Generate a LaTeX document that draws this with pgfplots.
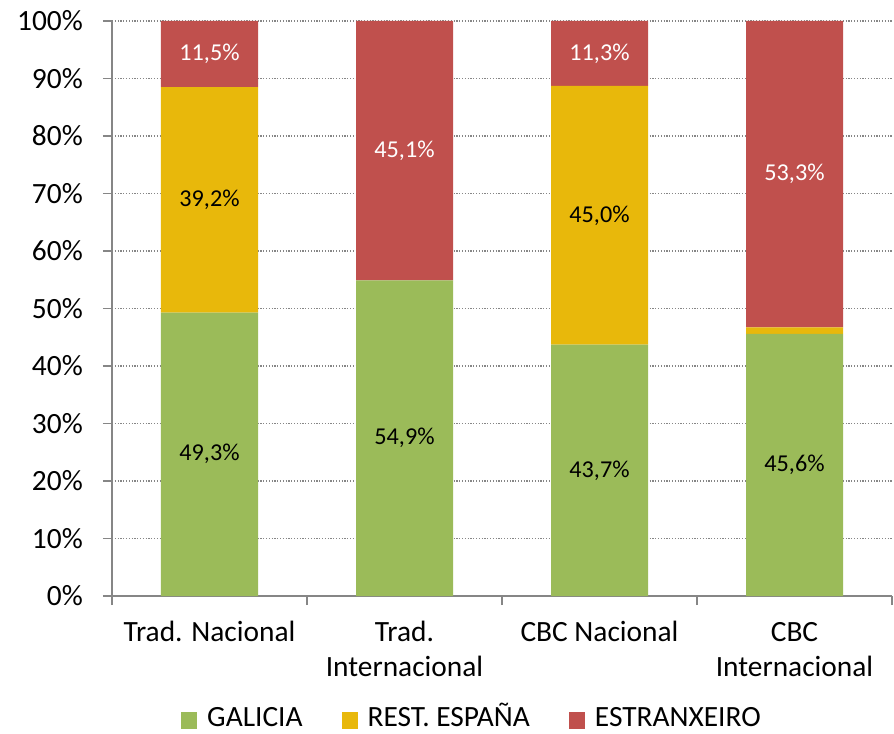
\documentclass[border=0pt]{standalone}
\usepackage{pgfplots}
\pgfplotsset{compat=1.18}
\usepackage{fontspec}
\setmainfont{Carlito}
\definecolor{cgreen}{HTML}{9BBB59}
\definecolor{cyellow}{HTML}{E8B80B}
\definecolor{cred}{HTML}{C0504D}
\definecolor{caxis}{HTML}{868686}
\newcommand{\lbl}{\fontsize{29.5}{35}\selectfont}
\newcommand{\dlbl}{\fontsize{24.3}{28}\selectfont}
\newcommand{\legtxt}[1]{\rule[-2bp]{0pt}{18bp}\smash{#1}}
\begin{document}
\begin{tikzpicture}
\path[use as bounding box] (-112bp,-138bp) rectangle (782bp,596bp);
\pgfplotsset{common/.style={
  anchor=south west, at={(0,0)},
  scale only axis, width=780bp, height=575bp,
  xmin=-0.5, xmax=3.5, ymin=0, ymax=100,
}}
\begin{axis}[common,
  ybar stacked, bar width=97bp,
  /pgf/number format/assume math mode=true,
  axis x line*=bottom, axis y line*=left,
  axis line style={caxis, line width=1.3bp, -},
  tick align=outside, major tick length=9bp,
  tick style={caxis, line width=1.3bp},
  ytick={0,10,...,100},
  yticklabel={\pgfmathprintnumber{\tick}\%},
  yticklabel style={font=\lbl, inner sep=0pt, xshift=-20bp},
  ymajorgrids, grid style={caxis, line width=1.2bp, dash pattern=on 1.2bp off 1.6bp},
  xtick={-0.5,0.5,1.5,2.5,3.5}, xticklabels={},
  extra x ticks={0,1,2,3},
  extra x tick labels={{\strut Trad. Nacional},{\strut Trad.\\\strut Internacional},{\strut CBC Nacional},{\strut CBC\\\strut Internacional}},
  extra x tick style={major tick length=0pt, grid=none,
    xticklabel style={font=\lbl, align=center, anchor=north, inner sep=0pt, yshift=-21bp}},
  legend columns=3,
  legend style={draw=none, fill=none, font=\lbl, at={(0.4615,-0.2151)}, anchor=center,
    inner sep=0pt,
    /tikz/every even column/.append style={column sep=37bp}},
]
\addplot[fill=cgreen, draw=none, legend image code/.code={\path (0bp,-20bp) (24bp,20bp); \fill[cgreen] (0bp,-9bp) rectangle (16bp,8bp);}]
  coordinates {(0,49.3) (1,54.9) (2,43.7) (3,45.6)};
\addplot[fill=cyellow, draw=none, legend image code/.code={\path (0bp,-20bp) (24bp,20bp); \fill[cyellow] (0bp,-9bp) rectangle (16bp,8bp);}]
  coordinates {(0,39.2) (1,0) (2,45.0) (3,1.1)};
\addplot[fill=cred, draw=none, legend image code/.code={\path (0bp,-20bp) (24bp,20bp); \fill[cred] (0bp,-9bp) rectangle (16bp,8bp);}]
  coordinates {(0,11.5) (1,45.1) (2,11.3) (3,53.3)};
\legend{{\legtxt{GALICIA}}, {\legtxt{REST. ESPAÑA}}, {\legtxt{ESTRANXEIRO}}}
\end{axis}
\begin{axis}[common, hide axis]
\addplot[draw=none, mark=none, nodes near coords, point meta=explicit symbolic,
  every node near coord/.style={anchor=center, font=\dlbl, text=black}]
  coordinates {(0,24.65) [49,3\%] (0,68.9) [39,2\%] (1,27.45) [54,9\%] (2,21.85) [43,7\%] (2,66.2) [45,0\%] (3,22.8) [45,6\%]};
\addplot[draw=none, mark=none, nodes near coords, point meta=explicit symbolic,
  every node near coord/.style={anchor=center, font=\dlbl, text=white}]
  coordinates {(0,94.25) [11,5\%] (1,77.45) [45,1\%] (2,94.35) [11,3\%] (3,73.35) [53,3\%]};
\end{axis}
\end{tikzpicture}
\end{document}
